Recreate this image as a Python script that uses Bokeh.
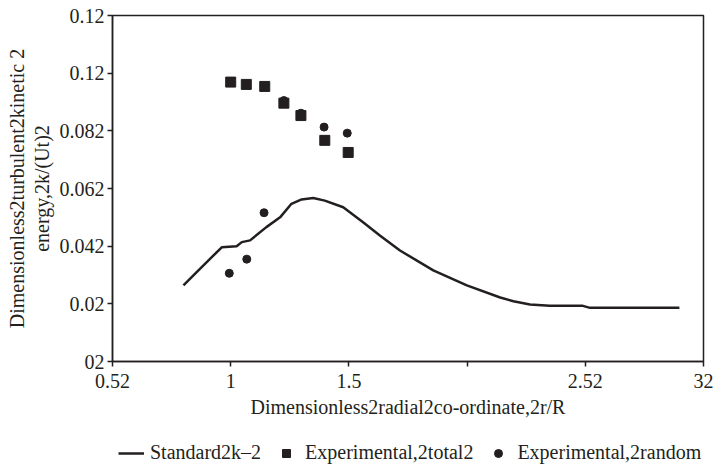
from bokeh.plotting import figure
from bokeh.layouts import column
from bokeh.models import FixedTicker, Legend, LegendItem, Range1d
from bokeh.embed import file_html
from bokeh.resources import INLINE

# ---- data ----
std_x = [0.80, 0.856, 0.92, 0.962, 1.025, 1.047, 1.082, 1.151, 1.209, 1.257, 1.30,
         1.349, 1.398, 1.476, 1.56, 1.631, 1.716, 1.857, 1.999, 2.14, 2.196, 2.266,
         2.35, 2.49, 2.52, 2.898]
std_y = [0.0264, 0.031, 0.0362, 0.0396, 0.0400, 0.0414, 0.0420, 0.0466, 0.0500,
         0.0547, 0.0562, 0.0567, 0.0558, 0.0535, 0.0483, 0.0437, 0.0385, 0.0316,
         0.0264, 0.0222, 0.0209, 0.0198, 0.0193, 0.0193, 0.0186, 0.0186]

total_x = [1.0, 1.066, 1.144, 1.225, 1.297, 1.398, 1.497]
total_y = [0.0969, 0.0961, 0.0954, 0.0896, 0.0853, 0.0767, 0.0725]

random_x = [0.994, 1.068, 1.141, 1.225, 1.297, 1.395, 1.493]
random_y = [0.0306, 0.0355, 0.0516, 0.0905, 0.0861, 0.0813, 0.0792]

x_ticks = [0.5, 1.0, 1.5, 2.0, 2.5, 3.0]
x_tick_labels = ["0.52", "1", "1.5", "", "2.52", "32"]
y_ticks = [0.0, 0.02, 0.04, 0.06, 0.08, 0.10, 0.12]
y_tick_labels = ["02", "0.02", "0.042", "0.062", "0.082", "0.12", "0.12"]

legend_labels = ["Standard2k\u20132", "Experimental,2total2", "Experimental,2random"]
x_title = "Dimensionless2radial2co-ordinate,2r/R"
y_title = "Dimensionless2turbulent2kinetic 2\nenergy,2k/(Ut)2"

INK = "#231f20"
FONT = "Liberation Serif"
FS = "20px"

p = figure(width=723, height=425, output_backend="svg", toolbar_location=None,
           x_range=Range1d(0.5, 3.0), y_range=Range1d(0.0, 0.12),
           min_border_left=112, min_border_right=20, min_border_top=15, min_border_bottom=64)
p.background_fill_color = "white"
p.border_fill_color = "white"
p.outline_line_color = INK
p.outline_line_width = 1.5
p.xgrid.visible = False
p.ygrid.visible = False

p.line(std_x, std_y, line_color=INK, line_width=2.5)
p.scatter(total_x, total_y, marker="square", size=10, color=INK)
p.scatter(random_x, random_y, marker="circle", size=8, color=INK)

for ax in (p.xaxis[0], p.yaxis[0]):
    ax.axis_line_color = INK
    ax.axis_line_width = 1.5
    ax.major_tick_line_color = INK
    ax.major_tick_line_width = 1.5
    ax.major_tick_out = 5
    ax.major_tick_in = 0
    ax.minor_tick_line_color = None
    ax.major_label_text_font = FONT
    ax.major_label_text_font_size = FS
    ax.major_label_text_color = INK
    ax.axis_label_text_font = FONT
    ax.axis_label_text_font_size = FS
    ax.axis_label_text_font_style = "normal"
    ax.axis_label_text_color = INK

p.xaxis.ticker = FixedTicker(ticks=x_ticks)
p.xaxis.major_label_overrides = {t: l for t, l in zip(x_ticks, x_tick_labels)}
p.yaxis.ticker = FixedTicker(ticks=y_ticks)
p.yaxis.major_label_overrides = {t: l for t, l in zip(y_ticks, y_tick_labels)}
p.xaxis.axis_label = x_title
p.xaxis.major_label_standoff = 7
p.xaxis.axis_label_standoff = 5
p.yaxis.axis_label = y_title
p.yaxis.axis_label_text_align = "center"
p.yaxis.axis_label_text_line_height = 1.1
p.yaxis.major_label_standoff = 3
p.yaxis.axis_label_standoff = 4

# ---- legend strip below the chart (its frame is aligned with the chart's frame) ----
lf = figure(width=723, height=44, output_backend="svg", toolbar_location=None,
            x_axis_type=None, y_axis_type=None, x_range=Range1d(0, 1), y_range=Range1d(0, 1),
            min_border_left=0, min_border_right=0, min_border_top=0, min_border_bottom=0)
lf.outline_line_color = None
lf.background_fill_color = "white"
lf.border_fill_color = "white"
lf.xgrid.visible = False
lf.ygrid.visible = False
nan = float("nan")
r1 = lf.line([nan, nan], [nan, nan], line_color=INK, line_width=2.5)
r2 = lf.scatter([nan], [nan], marker="square", size=7, color=INK)
r3 = lf.scatter([nan], [nan], marker="circle", size=7, color=INK)

legend = Legend(items=[LegendItem(label=legend_labels[0], renderers=[r1]),
                       LegendItem(label=legend_labels[1], renderers=[r2]),
                       LegendItem(label=legend_labels[2], renderers=[r3])],
                location=(6, 5), orientation="horizontal",
                label_text_font=FONT, label_text_font_size=FS, label_text_color=INK,
                glyph_width=26, glyph_height=20, label_standoff=6, spacing=12,
                border_line_color=None, background_fill_alpha=0, padding=0, margin=0)
lf.add_layout(legend, "center")

layout = column(p, lf, spacing=0)
open("out.html", "w").write(file_html(layout, INLINE))
